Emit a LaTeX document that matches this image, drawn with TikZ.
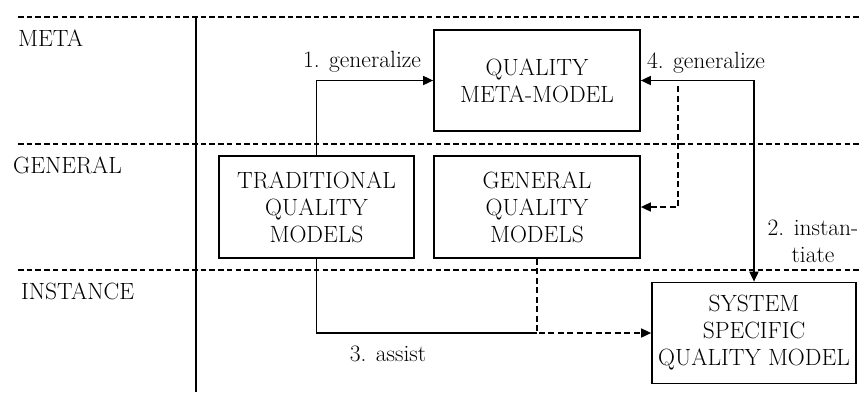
\documentclass[tikz,border=0pt]{standalone}
\usetikzlibrary{arrows.meta}
\begin{document}
\begin{tikzpicture}[x=1pt,y=-1pt,
  every node/.style={font=\fontsize{23.5}{27}\selectfont, text=black},
  box/.style={draw, line width=1.7pt, align=center, inner sep=0pt},
  conn/.style={line width=1.7pt},
  sep/.style={line width=1.7pt, dash pattern=on 5.5pt off 3.2pt},
  dconn/.style={line width=1.6pt, dash pattern=on 6pt off 3.5pt},
  tip/.style={-{Triangle[length=10pt,width=9pt]}},
  lbl/.style={inner sep=0pt}]
\useasboundingbox (0,0) rectangle (859,392);
% swimlane separators
\coordinate (t0) at (18,17);   \coordinate (t1) at (859,17);
\coordinate (g0) at (18,144);  \coordinate (g1) at (859,144);
\coordinate (i0) at (18,270);  \coordinate (i1) at (859,270);
\coordinate (v0) at (196,17);  \coordinate (v1) at (196,392);
\draw[sep] (t0) -- (t1);
\draw[sep] (g0) -- (g1);
\draw[sep] (i0) -- (i1);
\draw[conn] (v0) -- (v1);
% lane labels
\node[lbl, anchor=west] (lmeta) at (18,38) {META};
\node[lbl, anchor=west] (lgen) at (13,165) {GENERAL};
\node[lbl, anchor=west] (linst) at (21,291) {INSTANCE};
% boxes
\node[box, minimum width=206pt, minimum height=101pt] (meta) at (537,80.5) {QUALITY\\META-MODEL};
\node[box, minimum width=195pt, minimum height=102pt] (trad) at (316.5,207) {TRADITIONAL\\QUALITY\\MODELS};
\node[box, minimum width=206pt, minimum height=102pt] (gen) at (537,207) {GENERAL\\QUALITY\\MODELS};
\node[box, minimum width=204pt, minimum height=101pt] (sys) at (754,333) {SYSTEM\\SPECIFIC\\QUALITY MODEL};
% connectors
\draw[conn, tip] (trad.north) |- (meta.west);
\draw[conn, {Triangle[length=10pt,width=9pt]}-{Triangle[length=10pt,width=9pt]}] (meta.east) -| (sys.north);
\coordinate (d1) at (678,86);
\draw[dconn, tip] (d1) |- (gen.east);
\coordinate (m3) at (gen.south |- sys.west);
\draw[conn] (trad.south) |- (m3);
\draw[dconn, tip] (gen.south) -- (m3) -- (sys.west);
% labels
\node[lbl] (l1) at (362,62) {1. generalize};
\node[lbl] (l4) at (706,63) {4. generalize};
\node[lbl, align=center] (l2) at (813,241) {2. instan-\\tiate};
\node[lbl] (l3) at (388,354) {3. assist};
\end{tikzpicture}
\end{document}
